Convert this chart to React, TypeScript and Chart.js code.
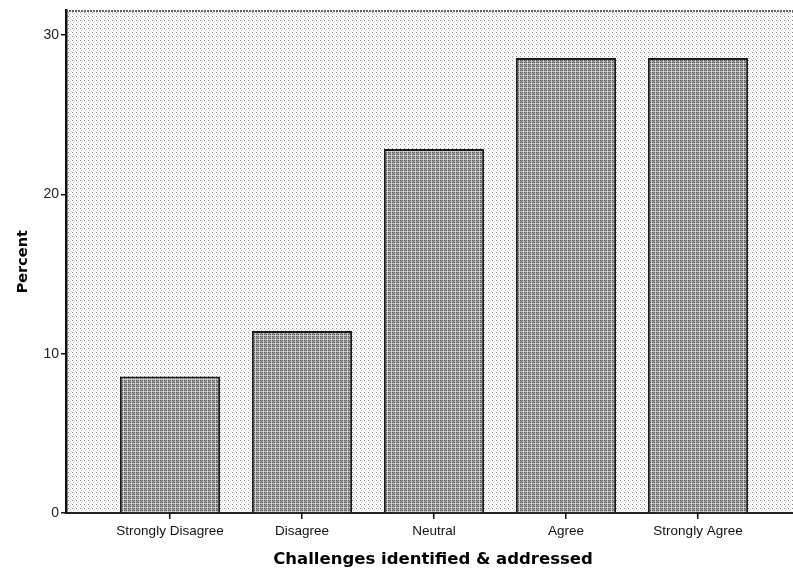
import React, { useEffect, useRef } from "react";
import { Chart, registerables } from "chart.js";

Chart.register(...registerables);

const categories = ["Strongly Disagree", "Disagree", "Neutral", "Agree", "Strongly Agree"];
const percents = [8.57, 11.43, 22.86, 28.57, 28.57];
const yTickValues = [0, 10, 20, 30];
const xAxisTitle = "Challenges identified & addressed";
const yAxisTitle = "Percent";

function makePattern(rows: string[][]): CanvasPattern | string {
  const h = rows.length;
  const w = rows[0].length;
  const c = document.createElement("canvas");
  c.width = w;
  c.height = h;
  const g = c.getContext("2d");
  if (!g) return "#aaa";
  for (let y = 0; y < h; y++) {
    for (let x = 0; x < w; x++) {
      g.fillStyle = rows[y][x];
      g.fillRect(x, y, 1, 1);
    }
  }
  const p = g.createPattern(c, "repeat");
  return p || "#aaa";
}

export default function App() {
  const ref = useRef<HTMLCanvasElement | null>(null);

  useEffect(() => {
    const canvas = ref.current;
    if (!canvas) return;
    const W = "#ffffff";
    const bgPattern = makePattern([
      ["#8a8a8a", W, W, W],
      [W, W, "#d4d4d4", W],
      [W, "#c4c4c4", W, W],
      [W, W, W, "#e8e8e8"],
    ]);
    const barPattern = makePattern([
      ["#555555", "#9a9a9a", "#606060", "#c4c4c4"],
      ["#a0a0a0", "#707070", "#a8a8a8", "#d4d4d4"],
      ["#606060", "#929292", "#555555", "#c0c0c0"],
      ["#bcbcbc", "#cccccc", "#b6b6b6", "#e6e6e6"],
    ]);

    const plotBg = {
      id: "plotBg",
      beforeDraw(chart: any) {
        const { ctx, chartArea } = chart;
        ctx.save();
        ctx.fillStyle = bgPattern;
        ctx.fillRect(chartArea.left, chartArea.top, chartArea.right - chartArea.left, chartArea.bottom - chartArea.top);
        ctx.restore();
      },
      afterDraw(chart: any) {
        const { ctx, chartArea } = chart;
        ctx.save();
        ctx.strokeStyle = "#333";
        ctx.lineWidth = 1.5;
        ctx.setLineDash([2, 1]);
        ctx.beginPath();
        ctx.moveTo(chartArea.left, chartArea.top + 0.5);
        ctx.lineTo(chartArea.right, chartArea.top + 0.5);
        ctx.stroke();
        ctx.restore();
      },
    };

    const chart = new Chart(canvas, {
      type: "bar",
      data: {
        datasets: [
          {
            data: percents.map((v, i) => ({ x: i + 1, y: v })),
            backgroundColor: barPattern as any,
            borderColor: "#1a1a1a",
            borderWidth: 2,
            barPercentage: 0.76,
            categoryPercentage: 1,
          },
        ],
      },
      options: {
        responsive: false,
        animation: false,
        devicePixelRatio: 1,
        layout: { padding: { left: 0, right: 0, top: 0, bottom: 0 } },
        plugins: { legend: { display: false }, tooltip: { enabled: false } },
        scales: {
          x: {
            type: "linear",
            offset: false,
            min: 0.2121,
            max: 5.7727,
            afterBuildTicks: (scale: any) => {
              scale.ticks = categories.map((_, i) => ({ value: i + 1 }));
            },
            afterFit: (scale: any) => {
              scale.height = 65;
            },
            ticks: {
              autoSkip: false,
              maxRotation: 0,
              padding: 4,
              color: "#111",
              font: { family: "Liberation Sans, Arial", size: 13.5 },
              callback: (v: any) => categories[Math.round(Number(v)) - 1] ?? "",
            },
            grid: {
              display: true,
              offset: false,
              drawOnChartArea: false,
              drawTicks: true,
              tickLength: 6,
              color: "#111",
              lineWidth: 1.5,
            },
            border: { display: true, color: "#222", width: 2 },
            title: {
              display: true,
              text: xAxisTitle,
              color: "#000",
              font: { family: "DejaVu Sans", size: 16.5, weight: "bold" },
              padding: { top: 0, bottom: 8 },
            },
          },
          y: {
            type: "linear",
            min: 0,
            max: 31.56,
            afterBuildTicks: (scale: any) => {
              scale.ticks = yTickValues.map((v) => ({ value: v }));
            },
            afterFit: (scale: any) => {
              scale.width = 66;
            },
            ticks: {
              padding: 2,
              color: "#222",
              font: { family: "Liberation Sans, Arial", size: 14 },
            },
            grid: {
              display: true,
              drawOnChartArea: false,
              drawTicks: true,
              tickLength: 5,
              color: "#111",
              lineWidth: 1.5,
            },
            border: { display: true, color: "#111", width: 2.5 },
            title: {
              display: true,
              text: yAxisTitle,
              color: "#000",
              font: { family: "DejaVu Sans", size: 14.5, weight: "bold" },
              padding: { top: 15, bottom: 0 },
            },
          },
        },
      },
      plugins: [plotBg],
    });
    return () => chart.destroy();
  }, []);

  return (
    <div style={{ position: "fixed", left: 0, top: 0, width: 793, height: 578, overflow: "hidden", background: "#fff" }}>
      <canvas ref={ref} width={800} height={578} style={{ display: "block", width: 800, height: 578 }} />
    </div>
  );
}
